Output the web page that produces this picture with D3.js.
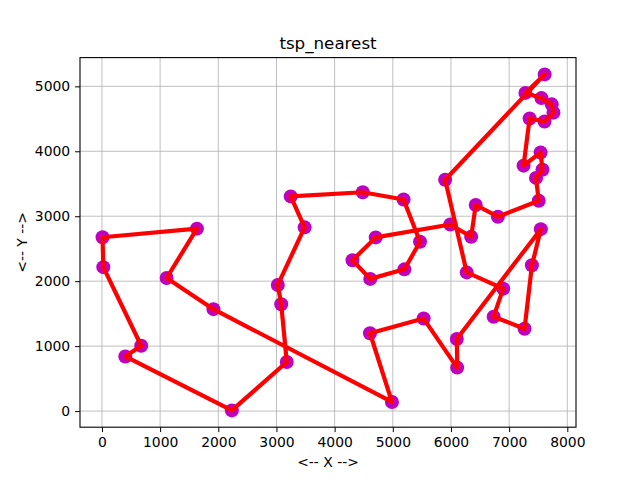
<!DOCTYPE html>
<html lang="en">
<head>
<meta charset="UTF-8">
<title>tsp_nearest</title>
<script src="https://d3js.org/d3.v7.min.js"></script>
<style>
    body { margin: 0; background: white; }
    text { font-family: "DejaVu Sans", sans-serif; fill: black; }
</style>
</head>
<body>
<svg id="chart" width="640" height="480"></svg>
<script>
// city coordinates (city 1..48)
const cityX = [6734, 2233, 5530, 401, 3082, 7608, 7573, 7265, 6898, 1112, 5468, 5989,
    4706, 4612, 6347, 6107, 7611, 7462, 7732, 5900, 4483, 6101, 5199, 1633, 4307, 675,
    7555, 7541, 3177, 7352, 7545, 3245, 6426, 4608, 23, 7248, 7762, 7392, 3484, 6271,
    4985, 1916, 7280, 7509, 10, 6807, 5185, 3023];
const cityY = [1453, 10, 1424, 841, 1644, 4458, 3716, 1268, 1885, 2049, 2606, 2873,
    2674, 2035, 2683, 669, 5184, 3590, 4723, 3561, 3369, 1110, 2182, 2809, 2322, 1006,
    4819, 3981, 756, 4506, 2801, 3305, 3173, 1198, 2216, 3779, 4595, 2244, 2829, 2135,
    140, 1569, 4899, 3239, 2676, 2993, 3258, 1942];
// visiting order (1-based city numbers), closed back to the start
const tour = [42, 10, 24, 45, 35, 26, 4, 2, 29, 5, 48, 39, 32, 21, 47, 11, 23, 14, 25,
    13, 12, 15, 33, 46, 44, 18, 7, 28, 36, 30, 6, 37, 19, 27, 43, 17, 20, 40, 9, 1, 8,
    38, 31, 22, 16, 3, 34, 41, 42];
const xTicks = [0, 1000, 2000, 3000, 4000, 5000, 6000, 7000, 8000];
const yTicks = [0, 1000, 2000, 3000, 4000, 5000];

const svg = d3.select("#chart");
const axL = 80, axR = 576, axT = 57.6, axB = 427.2;

// matplotlib style 5% margins
const xmin = d3.min(cityX), xmax = d3.max(cityX);
const ymin = d3.min(cityY), ymax = d3.max(cityY);
const xm = (xmax - xmin) * 0.05, ym = (ymax - ymin) * 0.05;
const x = d3.scaleLinear().domain([xmin - xm, xmax + xm]).range([axL, axR]);
const y = d3.scaleLinear().domain([ymin - ym, ymax + ym]).range([axB, axT]);

// grid
svg.append("g").selectAll("line").data(xTicks).join("line")
    .attr("x1", d => x(d)).attr("x2", d => x(d))
    .attr("y1", axT).attr("y2", axB)
    .attr("stroke", "#b0b0b0").attr("stroke-width", 0.8);
svg.append("g").selectAll("line").data(yTicks).join("line")
    .attr("x1", axL).attr("x2", axR)
    .attr("y1", d => y(d)).attr("y2", d => y(d))
    .attr("stroke", "#b0b0b0").attr("stroke-width", 0.8);

// points
svg.append("g").selectAll("circle").data(d3.range(cityX.length)).join("circle")
    .attr("cx", i => x(cityX[i]))
    .attr("cy", i => y(cityY[i]))
    .attr("r", 7)
    .attr("fill", "#bf00bf");

// tour path
const line = d3.line()
    .x(c => x(cityX[c - 1]))
    .y(c => y(cityY[c - 1]));
svg.append("path")
    .datum(tour)
    .attr("d", line)
    .attr("fill", "none")
    .attr("stroke", "red")
    .attr("stroke-width", 4.2)
    .attr("stroke-linejoin", "round");

// axes frame
svg.append("rect")
    .attr("x", axL).attr("y", axT)
    .attr("width", axR - axL).attr("height", axB - axT)
    .attr("fill", "none").attr("stroke", "black").attr("stroke-width", 1.1);

// x ticks
const xa = svg.append("g").attr("transform", `translate(0,${axB})`)
    .call(d3.axisBottom(x).tickValues(xTicks).tickSize(4.9).tickPadding(4.9).tickFormat(d3.format("d")));
xa.select(".domain").remove();
xa.selectAll("line").attr("stroke-width", 1);
xa.selectAll("text").attr("font-size", "13.9px").attr("font-family", "DejaVu Sans");

// y ticks
const ya = svg.append("g").attr("transform", `translate(${axL},0)`)
    .call(d3.axisLeft(y).tickValues(yTicks).tickSize(4.9).tickPadding(4.9).tickFormat(d3.format("d")));
ya.select(".domain").remove();
ya.selectAll("line").attr("stroke-width", 1);
ya.selectAll("text").attr("font-size", "13.9px").attr("font-family", "DejaVu Sans");

// labels
svg.append("text")
    .attr("x", (axL + axR) / 2).attr("y", 49)
    .attr("text-anchor", "middle").attr("font-size", "16.7px")
    .text("tsp_nearest");
svg.append("text")
    .attr("x", (axL + axR) / 2).attr("y", 467)
    .attr("text-anchor", "middle").attr("font-size", "13.9px")
    .text("<-- X -->");
svg.append("text")
    .attr("transform", `translate(27,${(axT + axB) / 2}) rotate(-90)`)
    .attr("text-anchor", "middle").attr("font-size", "13.9px")
    .text("<-- Y -->");
</script>
</body>
</html>
